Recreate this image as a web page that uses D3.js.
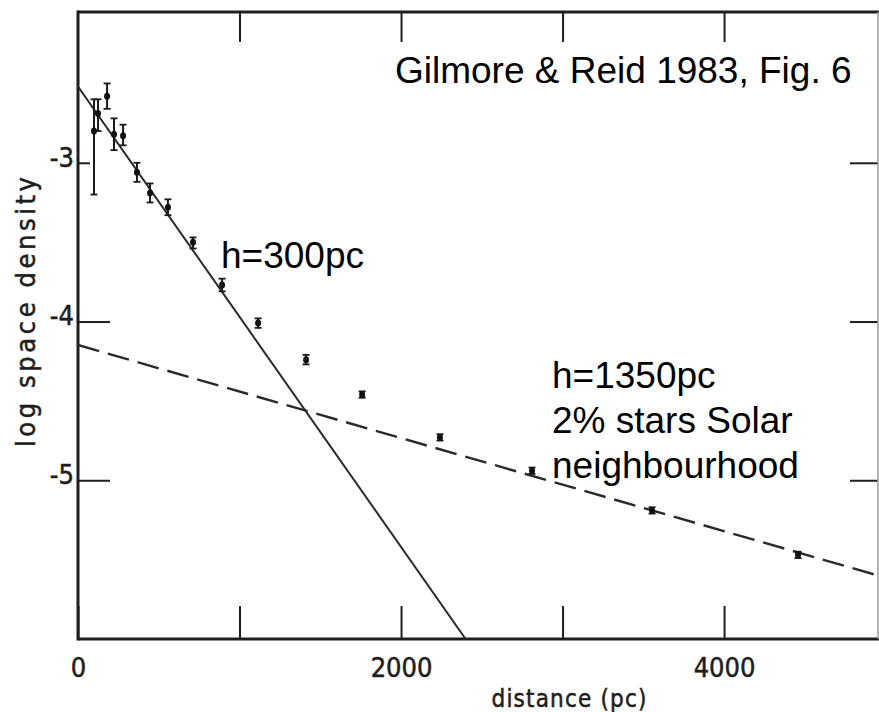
<!DOCTYPE html>
<html>
<head>
<meta charset="utf-8">
<script src="https://cdn.jsdelivr.net/npm/d3@7"></script>
<style>
  html, body { margin: 0; padding: 0; background: #fff; }
  svg { display: block; }
  .plotfont { font-family: "DejaVu Sans Condensed", "DejaVu Sans", sans-serif; font-stretch: condensed; fill: #1e1e1e; stroke: #1e1e1e; stroke-width: 0.5px; }
  .annot { font-family: "Liberation Sans", Arial, sans-serif; font-size: 37px; fill: #000; }
</style>
</head>
<body>
<svg id="chart" width="879" height="712"></svg>
<script>
// ---- data ----
const distance   = [99, 124, 180, 223, 279, 365, 446, 557, 712, 892, 1115, 1412, 1759, 2241, 2811, 3554, 4458];
const logDensity = [-2.80, -2.69, -2.58, -2.82, -2.83, -3.06, -3.19, -3.28, -3.50, -3.77, -4.01, -4.24, -4.46, -4.73, -4.94, -5.19, -5.47];
const errLow     = [-3.20, -2.80, -2.66, -2.92, -2.89, -3.12, -3.25, -3.33, -3.54, -3.81, -4.04, -4.27, -4.48, -4.75, -4.96, -5.21, -5.49];
const errHigh    = [-2.60, -2.60, -2.50, -2.72, -2.76, -3.00, -3.13, -3.23, -3.47, -3.73, -3.98, -4.21, -4.44, -4.71, -4.92, -5.17, -5.45];

// fitted exponential lines (endpoints in data units)
const thinDiskLine  = [[0, -2.52], [2400, -6.0]];   // h=300pc, solid
const thickDiskLine = [[0, -4.148], [4953, -5.60]]; // h=1350pc, dashed

const xTicks = [0, 1000, 2000, 3000, 4000];
const xTickLabels = [0, 2000, 4000];
const yTicks = [-3, -4, -5];
const xDomain = [0, 4953];
const yDomain = [-6.0, -2.05];

const annotations = [
  {text: "Gilmore & Reid 1983, Fig. 6", x: 395, y: 83},
  {text: "h=300pc", x: 221, y: 268},
  {text: "h=1350pc", x: 552, y: 388},
  {text: "2% stars Solar", x: 552, y: 433},
  {text: "neighbourhood", x: 552, y: 478}
];

// ---- layout ----
const svg = d3.select("#chart");
const L = 78, R = 878, T = 12, B = 639;
const x = d3.scaleLinear().domain(xDomain).range([L, R]);
const y = d3.scaleLinear().domain(yDomain).range([B, T]);

svg.append("defs").append("clipPath").attr("id", "clip")
  .append("rect").attr("x", L).attr("y", T).attr("width", R - L).attr("height", B - T);

// axes (ticks inward)
const gB = svg.append("g").attr("transform", `translate(0,${B})`)
  .call(d3.axisBottom(x).tickValues(xTicks).tickSizeInner(-33).tickSizeOuter(0).tickPadding(19)
    .tickFormat(d => xTickLabels.includes(d) ? String(d) : ""));
const gT = svg.append("g").attr("transform", `translate(0,${T})`)
  .call(d3.axisTop(x).tickValues(xTicks.slice(1)).tickSizeInner(-30).tickSizeOuter(0).tickFormat(""));
const gL = svg.append("g").attr("transform", `translate(${L},0)`)
  .call(d3.axisLeft(y).tickValues(yTicks).tickSizeInner(-32).tickSizeOuter(0).tickPadding(4)
    .tickFormat(d => String(d)));
const gR = svg.append("g").attr("transform", `translate(${R},0)`)
  .call(d3.axisRight(y).tickValues(yTicks).tickSizeInner(-28).tickSizeOuter(0).tickFormat(""));

[gB, gT, gL, gR].forEach(g => {
  g.select(".domain").remove();
  g.selectAll(".tick line").attr("stroke", "#1e1e1e").attr("stroke-width", 2);
  g.selectAll(".tick text").attr("class", "plotfont").attr("font-size", 27).style("font-size", "27px");
});
// the -3 tick on the left is short in the original
gL.selectAll(".tick").filter(d => d === -3).select("line").attr("x2", 12);
gL.selectAll(".tick text").attr("dy", "0.12em");
gB.selectAll(".tick text").attr("dy", "0.71em");

// frame
svg.append("line").attr("x1", L).attr("x2", R + 1).attr("y1", T).attr("y2", T).attr("stroke", "#1e1e1e").attr("stroke-width", 3);
svg.append("line").attr("x1", L).attr("x2", R + 1).attr("y1", B).attr("y2", B).attr("stroke", "#1e1e1e").attr("stroke-width", 3);
svg.append("line").attr("x1", L).attr("x2", L).attr("y1", T - 1.5).attr("y2", B + 1.5).attr("stroke", "#1e1e1e").attr("stroke-width", 3);
svg.append("line").attr("x1", R).attr("x2", R).attr("y1", T).attr("y2", B).attr("stroke", "#9a9a9a").attr("stroke-width", 1.5);

// fit lines
const lineGen = d3.line().x(d => x(d[0])).y(d => y(d[1]));
const plot = svg.append("g").attr("clip-path", "url(#clip)");
plot.append("path").datum(thinDiskLine).attr("d", lineGen)
  .attr("fill", "none").attr("stroke", "#2a2a2a").attr("stroke-width", 2);
plot.append("path").datum(thickDiskLine).attr("d", lineGen)
  .attr("fill", "none").attr("stroke", "#2a2a2a").attr("stroke-width", 2.4)
  .attr("stroke-dasharray", "22,9");

// data points with error bars
const pts = distance.map((d, i) => ({d, v: logDensity[i], lo: errLow[i], hi: errHigh[i]}));
const pg = plot.append("g").selectAll("g").data(pts).join("g");
pg.append("line").attr("x1", p => x(p.d)).attr("x2", p => x(p.d))
  .attr("y1", p => y(p.lo)).attr("y2", p => y(p.hi)).attr("stroke", "#1a1a1a").attr("stroke-width", 2);
pg.append("line").attr("x1", p => x(p.d) - 3.5).attr("x2", p => x(p.d) + 3.5)
  .attr("y1", p => y(p.lo)).attr("y2", p => y(p.lo)).attr("stroke", "#1a1a1a").attr("stroke-width", 1.8);
pg.append("line").attr("x1", p => x(p.d) - 3.5).attr("x2", p => x(p.d) + 3.5)
  .attr("y1", p => y(p.hi)).attr("y2", p => y(p.hi)).attr("stroke", "#1a1a1a").attr("stroke-width", 1.8);
pg.append("ellipse").attr("cx", p => x(p.d)).attr("cy", p => y(p.v))
  .attr("rx", 3).attr("ry", 3.5).attr("fill", "#111");

// axis titles
svg.append("text").attr("class", "plotfont").attr("x", 569).attr("y", 707)
  .attr("text-anchor", "middle").attr("font-size", 24)
  .attr("textLength", 155).attr("lengthAdjust", "spacing").text("distance (pc)");
svg.append("text").attr("class", "plotfont")
  .attr("transform", "translate(35,312) rotate(-90)")
  .attr("text-anchor", "middle").attr("font-size", 27)
  .attr("textLength", 270).attr("lengthAdjust", "spacing").text("log space density");

// annotations
svg.append("g").selectAll("text").data(annotations).join("text")
  .attr("class", "annot").attr("x", d => d.x).attr("y", d => d.y).text(d => d.text);
</script>
</body>
</html>
